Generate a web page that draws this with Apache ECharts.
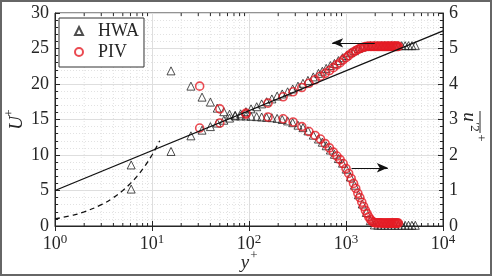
<!DOCTYPE html>
<html>
<head>
<meta charset="utf-8">
<script src="https://cdn.jsdelivr.net/npm/echarts@6/dist/echarts.min.js"></script>
<style>
  html, body { margin: 0; padding: 0; background: #fff; }
  #chart { width: 492px; height: 276px; }
</style>
</head>
<body>
<div id="chart"></div>
<script>
// HWA profiles
var ypHWA = [6.1, 15.7, 25.2, 32.8, 40, 47, 55, 63, 72, 82, 93, 105, 120, 135, 152, 172, 195, 220, 250, 282,
    320, 360, 405, 460, 520, 570, 625, 690, 760, 835, 920, 1010, 1110, 1220, 1340, 1470, 1620, 1780,
    1960, 2130, 2310, 2500, 2710, 2940, 3190, 3460, 3750, 4070, 4410, 4780, 5180]
var uHWA = [5.2, 10.5, 12.7, 13.5, 14.0, 14.5, 14.9, 15.2, 15.5, 15.8, 16.1, 16.5, 16.8, 17.2, 17.5, 17.9, 18.3, 18.6, 18.9, 19.3,
    19.7, 20.1, 20.5, 21.0, 21.5, 21.8, 22.2, 22.6, 22.9, 23.3, 23.7, 24.0, 24.4, 24.7, 25.0, 25.2, 25.3, 25.4,
    25.4, 25.4, 25.4, 25.4, 25.4, 25.4, 25.4, 25.4, 25.4, 25.4, 25.4, 25.4, 25.4]
var uuHWA = [1.72, 4.37, 3.94, 3.63, 3.49, 3.32, 3.22, 3.15, 3.12, 3.10, 3.10, 3.09, 3.08, 3.07, 3.06, 3.05, 3.03, 3.00, 2.96, 2.91,
    2.84, 2.77, 2.68, 2.56, 2.45, 2.36, 2.26, 2.14, 2.02, 1.90, 1.77, 1.60, 1.38, 1.15, 0.88, 0.62, 0.38, 0.15,
    0.03, 0.02, 0.02, 0.02, 0.02, 0.02, 0.02, 0.02, 0.02, 0.02, 0.02, 0.02, 0.02]

// PIV profiles
var ypPIV = [31, 50, 93, 157, 225, 285, 350, 415, 480, 545, 610, 675, 740, 805, 870, 935, 1000, 1065, 1130, 1195,
    1260, 1325, 1390, 1455, 1520, 1585, 1650, 1715, 1780, 1845, 1910, 1975, 2040, 2105, 2170, 2235, 2300,
    2365, 2430, 2495, 2560, 2625, 2690, 2755, 2820, 2885, 2950, 3015, 3080, 3145, 3210, 3275, 3340, 3405, 3470]
var uPIV = [13.8, 14.5, 15.9, 17.3, 18.2, 18.9, 19.5, 20.1, 20.6, 21.1, 21.5, 21.9, 22.3, 22.7, 23.0, 23.4, 23.7, 24.0, 24.3, 24.5,
    24.7, 24.85, 25.0, 25.1, 25.2, 25.25, 25.3, 25.3, 25.3, 25.3, 25.3, 25.3, 25.3, 25.3, 25.3, 25.3, 25.3,
    25.3, 25.3, 25.3, 25.3, 25.3, 25.3, 25.3, 25.3, 25.3, 25.3, 25.3, 25.3, 25.3, 25.3, 25.3, 25.3, 25.3, 25.3]
var uuPIV = [3.94, 3.30, 3.15, 3.07, 3.02, 2.93, 2.80, 2.66, 2.55, 2.45, 2.32, 2.20, 2.08, 1.97, 1.87, 1.76, 1.62, 1.48, 1.34, 1.20,
    1.06, 0.92, 0.80, 0.67, 0.55, 0.44, 0.35, 0.26, 0.19, 0.14, 0.11, 0.09, 0.09, 0.09, 0.09, 0.09, 0.09,
    0.08, 0.08, 0.08, 0.08, 0.08, 0.08, 0.08, 0.08, 0.08, 0.08, 0.08, 0.08, 0.08, 0.08, 0.08, 0.08, 0.08, 0.08]

// reference lines: log law and U+ = y+
var logLaw = [[1, 5.0], [10000, 27.47]]
var subLayer = [[1, 1], [1.5, 1.5], [2, 2], [3, 3], [4, 4], [5, 5], [6, 6], [7, 7], [8, 8], [9, 9], [10, 10], [11, 11], [12, 12]]

// annotation arrows (tail, head) in data coords
var arrowU = [[1980, 25.8], [720, 25.8]]
var arrowUU = [[1140, 8.2], [2700, 8.2]]

var xMinor = [2, 3, 4, 5, 6, 7, 8, 9, 20, 30, 40, 50, 60, 70, 80, 90,
    200, 300, 400, 500, 600, 700, 800, 900, 2000, 3000, 4000, 5000, 6000, 7000, 8000, 9000]

var FONT = 'Liberation Serif'
var INK = '#262626'

function zip(xs, ys) {
    return xs.map(function(x, i) { return [x, ys[i]] })
}

var chart = echarts.init(document.getElementById('chart'), null, { renderer: 'canvas' })

var tickText = { fontFamily: FONT, fontSize: 18, color: INK }

chart.setOption({
    animation: false,
    backgroundColor: '#fff',
    grid: { left: 55, right: 49, top: 13, bottom: 50, show: true, borderColor: INK, borderWidth: 1, backgroundColor: 'transparent' },
    legend: {
        data: [{ name: 'HWA', icon: 'triangle' }, { name: 'PIV', icon: 'circle' }],
        orient: 'vertical',
        left: 59, top: 18,
        backgroundColor: '#fff',
        borderColor: '#333', borderWidth: 1, borderRadius: 0,
        padding: [4, 5, 6, 15],
        itemWidth: 8, itemHeight: 8, itemGap: 3,
        textStyle: { fontFamily: FONT, fontSize: 18, color: INK, padding: [0, 0, 0, 10] }
    },
    xAxis: [{
        type: 'log', logBase: 10, min: 1, max: 10000,
        axisLine: { show: true, lineStyle: { color: INK } },
        axisTick: { show: true, inside: true, length: 5, lineStyle: { color: INK } },
        splitLine: { show: true, lineStyle: { color: '#dedede', width: 1 } },
        axisLabel: {
            margin: 7,
            formatter: function(v) {
                var e = Math.round(Math.log10(v))
                return '{b|10}{s|' + e + '}'
            },
            rich: {
                b: { fontFamily: FONT, fontSize: 18, color: INK },
                s: { fontFamily: FONT, fontSize: 13, color: INK, padding: [0, 0, 10, 0] }
            }
        }
    }, {
        type: 'log', logBase: 10, min: 1, max: 10000, position: 'top',
        axisLine: { show: false },
        axisTick: { show: true, inside: true, length: 5, lineStyle: { color: INK } },
        axisLabel: { show: false },
        splitLine: { show: false }
    }],
    yAxis: [{
        type: 'value', min: 0, max: 30, interval: 5,
        axisLine: { show: true, lineStyle: { color: INK } },
        axisTick: { show: true, inside: true, length: 5, lineStyle: { color: INK } },
        minorTick: { show: true, splitNumber: 5, length: 3, lineStyle: { color: INK } },
        splitLine: { show: true, lineStyle: { color: '#dedede' } },
        minorSplitLine: { show: true, lineStyle: { color: '#e2e2e2', type: [1, 2] } },
        axisLabel: Object.assign({ margin: 6 }, tickText)
    }, {
        type: 'value', min: 0, max: 6, interval: 1, position: 'right',
        axisLine: { show: true, lineStyle: { color: INK } },
        axisTick: { show: true, inside: true, length: 5, lineStyle: { color: INK } },
        minorTick: { show: true, splitNumber: 5, length: 3, lineStyle: { color: INK } },
        splitLine: { show: false },
        axisLabel: Object.assign({ margin: 6 }, tickText)
    }],
    graphic: [
        { type: 'rect', shape: { x: 1, y: 1, width: 490, height: 274 }, style: { fill: 'none', stroke: '#666', lineWidth: 2 }, silent: true },
        // left axis name U+
        {
            type: 'group', x: 17, y: 123, rotation: Math.PI / 2,
            children: [
                { type: 'text', x: 0, y: 0, style: { text: 'U', fontFamily: FONT, fontStyle: 'italic', fontSize: 19, fill: INK, align: 'center', verticalAlign: 'middle' } },
                { type: 'text', x: 10, y: -7, style: { text: '+', fontFamily: FONT, fontSize: 13, fill: INK, align: 'center', verticalAlign: 'middle' } }
            ]
        },
        // bottom axis name y+
        {
            type: 'group', x: 245, y: 263,
            children: [
                { type: 'text', x: 0, y: 0, style: { text: 'y', fontFamily: FONT, fontStyle: 'italic', fontSize: 19, fill: INK, align: 'center', verticalAlign: 'middle' } },
                { type: 'text', x: 9, y: -7, style: { text: '+', fontFamily: FONT, fontSize: 13, fill: INK, align: 'center', verticalAlign: 'middle' } }
            ]
        },
        // right axis name: overline(u'^2)^+
        {
            type: 'group', x: 470, y: 126, rotation: -Math.PI / 2,
            children: [
                { type: 'text', x: -9, y: 1, style: { text: 'u', fontFamily: FONT, fontStyle: 'italic', fontSize: 19, fill: INK, align: 'center', verticalAlign: 'middle' } },
                { type: 'text', x: 1, y: -4, style: { text: '′2', fontFamily: FONT, fontSize: 13, fill: INK, align: 'center', verticalAlign: 'middle' } },
                { type: 'line', shape: { x1: -15, y1: -10, x2: 7, y2: -10 }, style: { stroke: INK, lineWidth: 1 } },
                { type: 'text', x: 12, y: -10, style: { text: '+', fontFamily: FONT, fontSize: 13, fill: INK, align: 'center', verticalAlign: 'middle' } }
            ]
        }
    ],
    series: [{
        // minor log grid lines and ticks on x
        type: 'custom',
        silent: true,
        z: 1,
        data: xMinor.map(function(v) { return [v, 0] }),
        renderItem: function(params, api) {
            var cs = params.coordSys
            var x = api.coord([api.value(0), 0])[0]
            return {
                type: 'group',
                children: [
                    { type: 'line', shape: { x1: x, y1: cs.y, x2: x, y2: cs.y + cs.height }, style: { stroke: '#e2e2e2', lineWidth: 1, lineDash: [1, 2] } },
                    { type: 'line', shape: { x1: x, y1: cs.y + cs.height, x2: x, y2: cs.y + cs.height - 3 }, style: { stroke: INK, lineWidth: 1 } },
                    { type: 'line', shape: { x1: x, y1: cs.y, x2: x, y2: cs.y + 3 }, style: { stroke: INK, lineWidth: 1 } }
                ]
            }
        }
    }, {
        name: 'HWA', type: 'scatter', yAxisIndex: 0,
        symbol: 'triangle', symbolSize: 8,
        itemStyle: { color: 'rgba(255,255,255,0)', borderColor: '#222', borderWidth: 1 },
        data: zip(ypHWA, uHWA)
    }, {
        name: 'HWA', type: 'scatter', yAxisIndex: 1,
        symbol: 'triangle', symbolSize: 8,
        itemStyle: { color: 'rgba(255,255,255,0)', borderColor: '#222', borderWidth: 1 },
        data: zip(ypHWA, uuHWA)
    }, {
        name: 'PIV', type: 'scatter', yAxisIndex: 0,
        symbol: 'circle', symbolSize: 8,
        itemStyle: { color: 'rgba(255,255,255,0)', borderColor: '#e51d25', borderWidth: 1.6 },
        data: zip(ypPIV, uPIV)
    }, {
        name: 'PIV', type: 'scatter', yAxisIndex: 1,
        symbol: 'circle', symbolSize: 8,
        itemStyle: { color: 'rgba(255,255,255,0)', borderColor: '#e51d25', borderWidth: 1.6 },
        data: zip(ypPIV, uuPIV)
    }, {
        name: 'log law', type: 'line', yAxisIndex: 0, z: 5,
        symbol: 'none', silent: true,
        lineStyle: { color: '#111', width: 1.3 },
        data: logLaw
    }, {
        name: 'sublayer', type: 'line', yAxisIndex: 0, z: 5,
        symbol: 'none', silent: true, smooth: true,
        lineStyle: { color: '#111', width: 1.3, type: [5, 4] },
        data: subLayer,
        markLine: {
            silent: true,
            symbol: ['none', 'arrow'],
            symbolSize: [7, 11],
            label: { show: false },
            lineStyle: { color: '#111', width: 1, type: 'solid' },
            data: [
                [{ coord: arrowU[0] }, { coord: arrowU[1] }],
                [{ coord: arrowUU[0] }, { coord: arrowUU[1] }]
            ]
        }
    }]
})
</script>
</body>
</html>
